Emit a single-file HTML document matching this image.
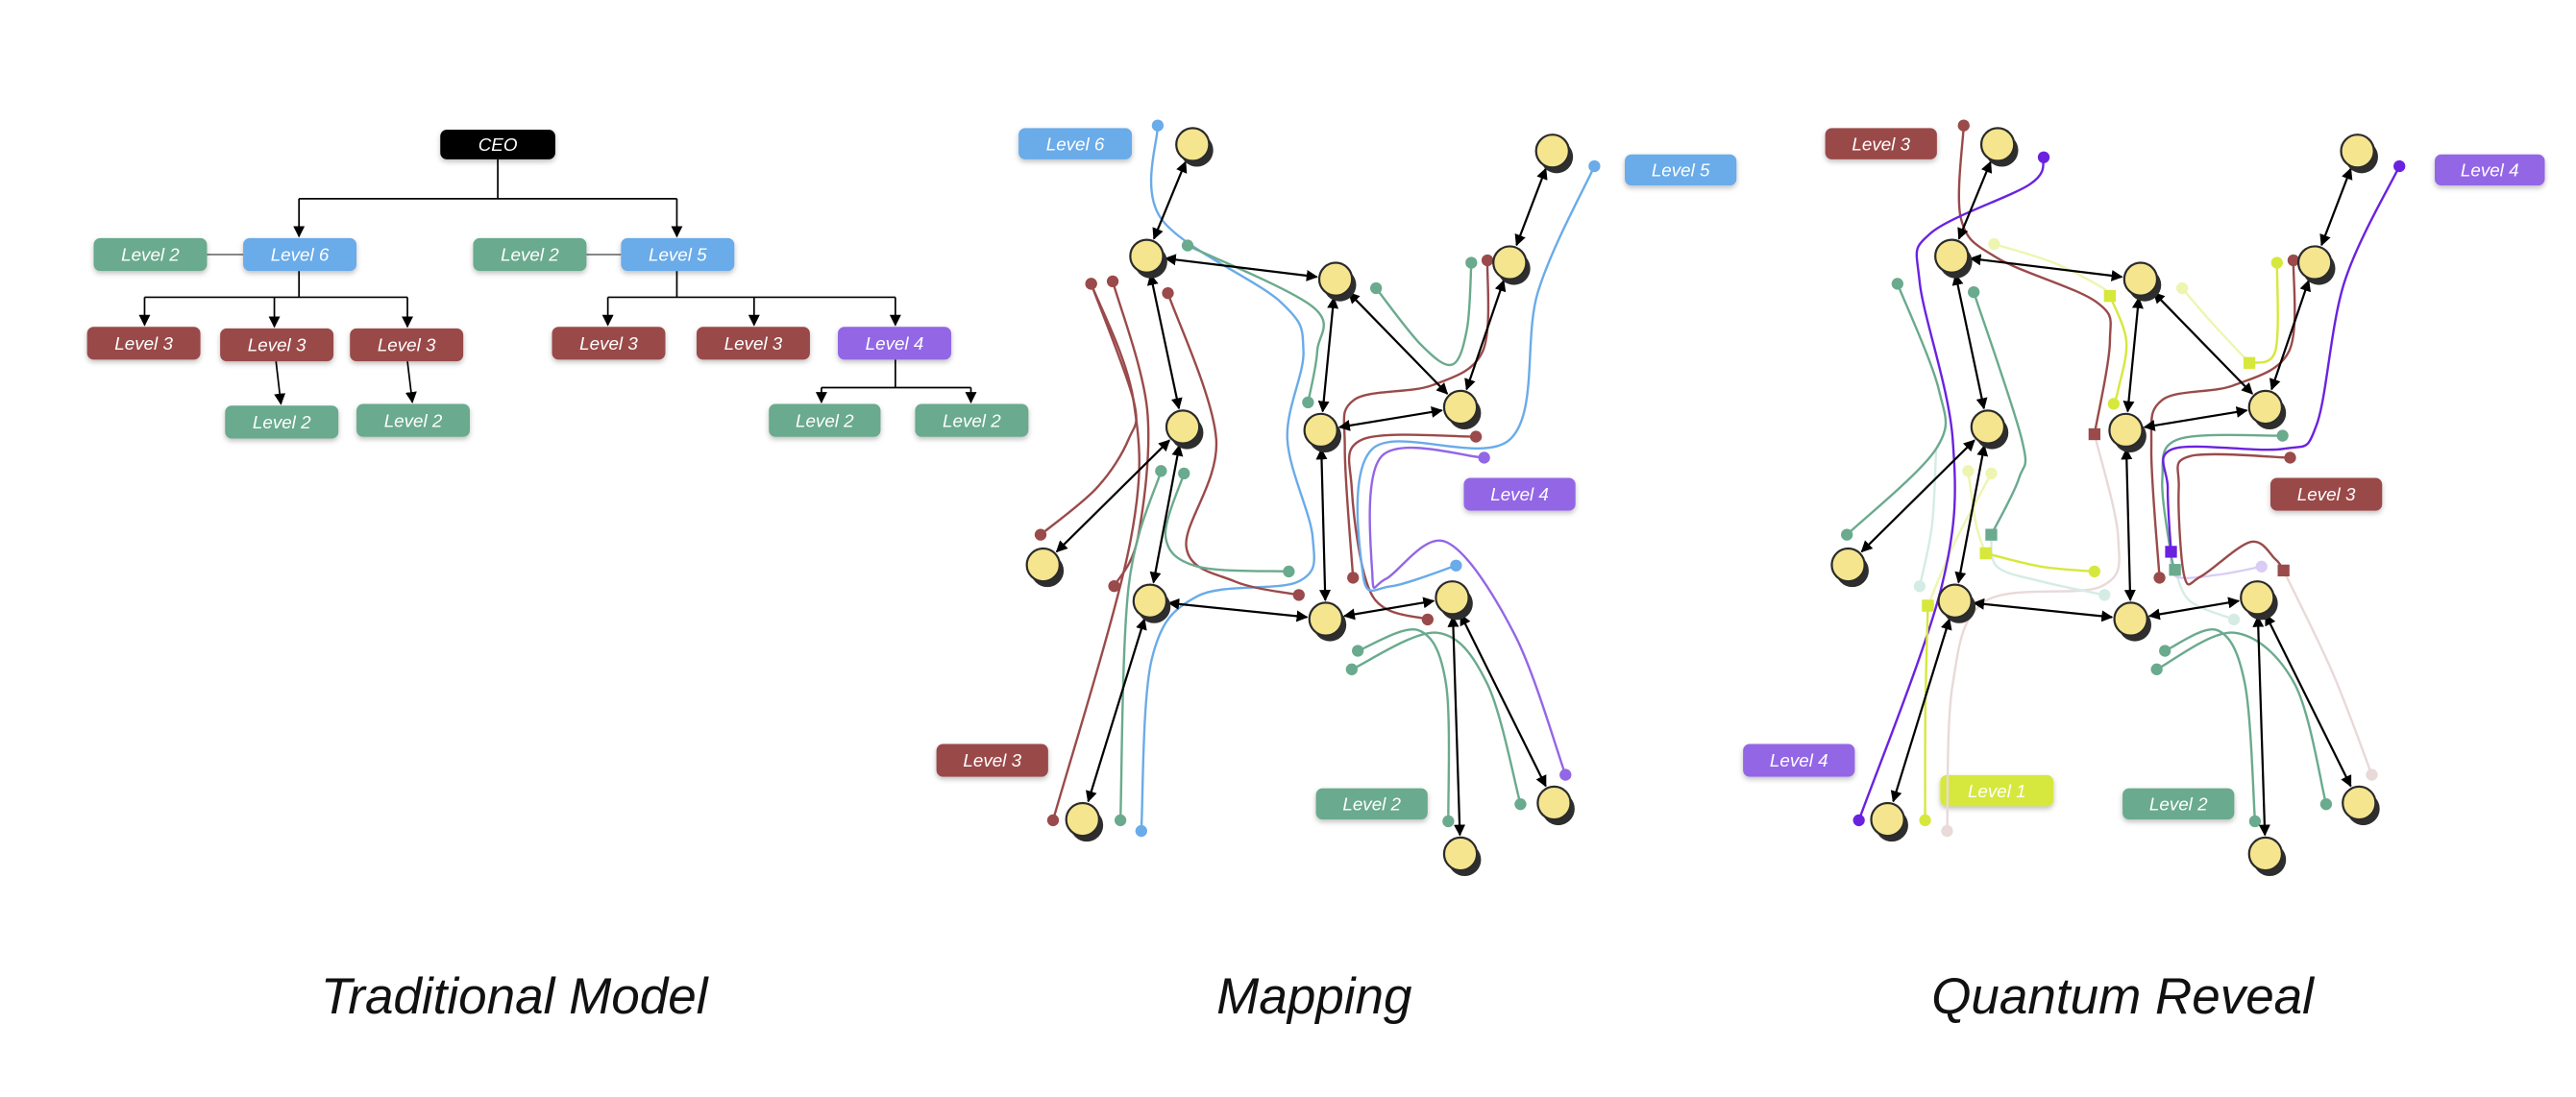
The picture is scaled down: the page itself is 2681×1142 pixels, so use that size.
<!DOCTYPE html>
<html><head><meta charset="utf-8"><style>
html,body{margin:0;padding:0;background:#fff;}
svg{display:block;}
.lb text{font-family:"Liberation Sans",sans-serif;font-style:italic;font-size:11px;fill:#fff;text-anchor:middle;}
.tt{font-family:"Liberation Sans",sans-serif;font-style:italic;font-size:31px;fill:#111;text-anchor:middle;}
</style></head><body>
<svg id="s" width="2681" height="1142" viewBox="0 0 1568 668" preserveAspectRatio="none" xmlns="http://www.w3.org/2000/svg">
<defs>
<marker id="ah" viewBox="0 0 10 10" refX="9" refY="5" markerWidth="7" markerHeight="7" markerUnits="userSpaceOnUse" orient="auto-start-reverse"><path d="M0,0 L10,5 L0,10 z" fill="#000"/></marker>
<marker id="ta" viewBox="0 0 10 10" refX="9" refY="5" markerWidth="7" markerHeight="8" markerUnits="userSpaceOnUse" orient="auto"><path d="M0,0 L10,5 L0,10 z" fill="#000"/></marker>
<filter id="sh" x="-20%" y="-30%" width="140%" height="170%"><feDropShadow dx="0" dy="1.5" stdDeviation="1.5" flood-opacity="0.25"/></filter>
</defs>

<g stroke="#000" stroke-width="1" fill="none">
<path d="M303,97 V121 M182,121 H412"/>
<path d="M182,121 V144" marker-end="url(#ta)"/>
<path d="M412,121 V144" marker-end="url(#ta)"/>
<path d="M182,165 V181 M88,181 H248"/>
<path d="M88,181 V198" marker-end="url(#ta)"/>
<path d="M167,181 V199" marker-end="url(#ta)"/>
<path d="M248,181 V199" marker-end="url(#ta)"/>
<path d="M412,165 V181 M370,181 H545"/>
<path d="M370,181 V198" marker-end="url(#ta)"/>
<path d="M459,181 V198" marker-end="url(#ta)"/>
<path d="M545,181 V198" marker-end="url(#ta)"/>
<path d="M168,220 L171,246" marker-end="url(#ta)"/>
<path d="M248,220 L251,245" marker-end="url(#ta)"/>
<path d="M545,219 V236 M500,236 H591"/>
<path d="M500,236 V245" marker-end="url(#ta)"/>
<path d="M591,236 V245" marker-end="url(#ta)"/>
</g>
<g stroke="#888" stroke-width="1.2"><path d="M126,155 H148 M357,155 H378"/></g>

<g id="labels" class="lb" filter="url(#sh)"></g>
<g id="curves" fill="none" stroke-linecap="round"></g>
<g id="edges" stroke="#000" stroke-width="1.3" fill="none"></g>
<g id="nodes"></g>

<text class="tt" x="313" y="617">Traditional Model</text>
<text class="tt" x="800" y="617">Mapping</text>
<text class="tt" x="1292" y="617">Quantum Reveal</text>
</svg>
<script>
var NS="http://www.w3.org/2000/svg";
function el(t,a,p){var e=document.createElementNS(NS,t);for(var k in a)e.setAttribute(k,a[k]);p.appendChild(e);return e;}
var C={g:"#6aaa8e",b:"#6aabe9",r:"#9a4a4a",p:"#9366e6",y:"#d6e83c",k:"#000",P:"#6a22e0",pk:"#e9d9d9",fg:"#d5ece4",fy:"#eef5b0",fp:"#d9cdf6"};
var L=document.getElementById("labels");
function lab(x1,y1,x2,y2,c,t){el("rect",{x:x1,y:y1,width:x2-x1,height:y2-y1,rx:4,fill:C[c]},L);var tx=el("text",{x:(x1+x2)/2,y:(y1+y2)/2+3.9},L);tx.textContent=t;}
lab(268,79,338,97,"k","CEO");
lab(57,145,126,165,"g","Level 2");lab(148,145,217,165,"b","Level 6");
lab(288,145,357,165,"g","Level 2");lab(378,145,447,165,"b","Level 5");
lab(53,199,122,219,"r","Level 3");lab(134,200,203,220,"r","Level 3");lab(213,200,282,220,"r","Level 3");
lab(336,199,405,219,"r","Level 3");lab(424,199,493,219,"r","Level 3");lab(510,199,579,219,"p","Level 4");
lab(137,247,206,267,"g","Level 2");lab(217,246,286,266,"g","Level 2");lab(468,246,536,266,"g","Level 2");lab(557,246,626,266,"g","Level 2");
lab(620,78,689,97,"b","Level 6");lab(989,94,1057,113,"b","Level 5");lab(891,291,959,311,"p","Level 4");
lab(570,453,638,473,"r","Level 3");lab(801,480,869,499,"g","Level 2");
lab(1111,78,1179,97,"r","Level 3");lab(1482,94,1549,113,"p","Level 4");lab(1382,291,1450,311,"r","Level 3");
lab(1061,453,1129,473,"p","Level 4");lab(1181,472,1250,491,"y","Level 1");lab(1292,480,1360,499,"g","Level 2");

var N=[[726,88],[698,156],[813,170],[945,92],[919,160],[720,260],[804,262],[889,248],[635,344],[700,366],[807,377],[884,364],[659,499],[889,520],[946,489]];
var E=[[0,1],[1,2],[1,5],[2,6],[2,7],[3,4],[4,7],[6,7],[6,10],[5,8],[5,9],[9,10],[10,11],[9,12],[11,13],[11,14]];
var EG=document.getElementById("edges"),NG=document.getElementById("nodes"),CG=document.getElementById("curves");
var R=10;
[0,490].forEach(function(dx){
 E.forEach(function(e){var a=N[e[0]],b=N[e[1]];var ax=a[0]+dx,ay=a[1],bx=b[0]+dx,by=b[1];var vx=bx-ax,vy=by-ay,d=Math.hypot(vx,vy);vx/=d;vy/=d;var s=R+1.5;
  el("line",{x1:ax+vx*s,y1:ay+vy*s,x2:bx-vx*s,y2:by-vy*s,"marker-start":"url(#ah)","marker-end":"url(#ah)"},EG);});
 N.forEach(function(n){el("circle",{cx:n[0]+dx+2.5,cy:n[1]+3.5,r:R,fill:"#2e2e2e"},NG);el("circle",{cx:n[0]+dx,cy:n[1],r:R,fill:"#f5e58f",stroke:"#2b2b2b","stroke-width":1.3},NG);});
});
function cr(p){var d="M"+p[0][0]+","+p[0][1];for(var i=0;i<p.length-1;i++){var p0=p[i-1]||p[i],p1=p[i],p2=p[i+1],p3=p[i+2]||p2;
 d+=" C"+(p1[0]+(p2[0]-p0[0])/6)+","+(p1[1]+(p2[1]-p0[1])/6)+" "+(p2[0]-(p3[0]-p1[0])/6)+","+(p2[1]-(p3[1]-p1[1])/6)+" "+p2[0]+","+p2[1];}return d;}
function cv(c,p,s,e,sc){var col=C[c];el("path",{d:cr(p),stroke:col,"stroke-width":1.4},CG);
 [[s,p[0]],[e,p[p.length-1]]].forEach(function(m){if(!m[0])return;if(m[0]=="d")el("circle",{cx:m[1][0],cy:m[1][1],r:3.6,fill:col},CG);
  if(m[0]=="s")el("rect",{x:m[1][0]-3.6,y:m[1][1]-3.6,width:7.2,height:7.2,fill:C[sc||c]},CG);});}
cv("b",[[704.7,76.4],[706.7,133],[779.4,183.8],[793.4,213.7],[783.6,267.4],[799,327],[790.6,354],[729,363],[701,401.7],[694.7,506]],"d","d");
cv("g",[[722.9,149.5],[799,186.8],[801.8,213.7],[796.2,245]],"d","d");
cv("r",[[664.2,172.8],[689.9,243.5],[687,267.4],[667.5,297.2],[633.4,325.6]],"d","d");
cv("r",[[677.3,171.3],[698.3,249.5],[692.7,327],[678.2,356.9]],"d","d");
cv("r",[[664.2,172.8],[689.9,243.5],[688,330],[641,499.5]],"d","d");
cv("r",[[710.9,178.5],[740.3,267.4],[722.1,333],[751.5,354],[790.6,362.3]],"d","d");
cv("g",[[706.7,286.8],[687,357],[682,499.5]],"d","d");
cv("g",[[720.7,288.3],[709.5,327],[729,345],[784.5,348]],"d","d");
cv("g",[[837.6,175.5],[865,210],[884,222],[893,200],[895.6,160]],"d","d");
cv("r",[[905.4,158.5],[902.6,213.7],[871.8,234.6],[824.2,243.5],[818.6,273.3],[823.6,351.8]],"d","d");
cv("r",[[898.4,265.9],[829.8,267.4],[822.8,297.2],[835.4,362.9],[869,377.2]],"d","d");
cv("b",[[970.5,101.2],[936.1,177.9],[919.3,267.4],[835.4,273.3],[829.8,351],[846.6,357],[886.3,344.4]],"d","d");
cv("p",[[903.4,278.7],[841,277.8],[835.4,351],[843.8,352.4],[880.2,330],[922.1,386.7],[952.9,471.8]],"d","d");
cv("g",[[826.5,396.3],[863.4,383.8],[880.2,416.6],[881.6,500.1]],"d","d");
cv("g",[[822.8,407.6],[874.6,385.3],[905.4,416.6],[925.5,489.7]],"d","d");
cv("pk",[[1274.9,264.4],[1289.3,327],[1279.2,357],[1208.7,366],[1188.6,416.6],[1185.2,506]],"","d");
cv("fg",[[1178.5,273.3],[1176,320],[1168.5,357]],"","d");
cv("fg",[[1212.1,325.6],[1215.5,345],[1242.3,354],[1281,362.3]],"","d");
cv("fy",[[1369.2,221],[1345,195],[1328.3,175.5]],"","d");
cv("fy",[[1213.8,148.6],[1250,160],[1279.2,174.9],[1284.3,180.2]],"d","s","y");
cv("fy",[[1198,286.8],[1203,320],[1208.7,336.9]],"d","s","y");
cv("fy",[[1212.1,288.3],[1190,330],[1173.5,368.8]],"d","s","y");
cv("fg",[[1323.9,347],[1333,366],[1359.8,377.2]],"","d");
cv("fp",[[1321.5,336],[1324.6,351],[1350,350],[1376.6,345]],"","d");
cv("pk",[[1390,347.4],[1420,410],[1443.7,471.8]],"","d");
cv("r",[[1195.3,76.4],[1193.6,133],[1215.5,157],[1275.9,183.8],[1284.3,207.7],[1274.9,264.4]],"d","s");
cv("P",[[1244,95.8],[1235.6,112.2],[1175.2,142],[1168.5,171.9],[1188.6,267.4],[1181.9,357],[1131.5,499.5]],"d","d");
cv("g",[[1155,172.8],[1180.2,237.5],[1178.5,273.3],[1124.2,325.6]],"d","d");
cv("g",[[1201.4,177.9],[1230.6,267.4],[1228.9,291.3],[1212.1,325.6]],"d","s");
cv("y",[[1386,160],[1385,213.7],[1369.2,221]],"d","s");
cv("y",[[1284.3,180.2],[1294.3,207.7],[1289.3,237.5],[1286.6,245.9]],"s","d");
cv("y",[[1208.7,336.9],[1242.3,345],[1274.9,348]],"s","d");
cv("y",[[1173.5,368.8],[1172,430],[1171.8,499.5]],"s","d");
cv("r",[[1396,158.5],[1393.4,213.7],[1359.8,234.6],[1316.2,243.5],[1309.5,273.3],[1314.5,351.8]],"d","d");
cv("g",[[1389.4,265.3],[1326.2,267.4],[1316.2,291.3],[1321.2,336],[1323.9,347]],"d","s");
cv("P",[[1460.5,101.2],[1427,171.9],[1410.2,258.4],[1390,273.3],[1322.9,273.3],[1319.5,297.2],[1321.5,336]],"d","s");
cv("r",[[1394,278.7],[1333,277.8],[1326.2,297.2],[1329.6,351],[1339.7,351],[1369.9,330],[1385,340.5],[1390,347.4]],"d","s");
cv("g",[[1317.8,396.3],[1349.7,383.8],[1366.5,416.6],[1372.6,500.1]],"d","d");
cv("g",[[1312.8,407.6],[1359.8,385.3],[1396.8,416.6],[1415.9,489.7]],"d","d");
</script>
</body></html>
